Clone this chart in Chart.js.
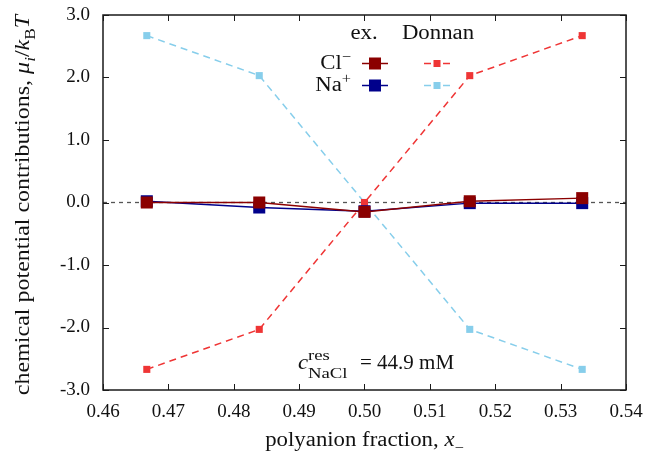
<!DOCTYPE html>
<html><head><meta charset="utf-8">
<script src="https://cdn.jsdelivr.net/npm/chart.js@4/dist/chart.umd.min.js"></script>
<style>html,body{margin:0;padding:0;background:#fff}canvas{display:block}</style>
</head><body>
<canvas id="c" width="646" height="457"></canvas>
<script>
// ---- data ----
const xFraction = [0.4667, 0.4839, 0.5000, 0.5161, 0.5333];
const exCl      = [0.00, 0.00, -0.15, 0.02, 0.07];
const exNa      = [0.02, -0.08, -0.14, -0.01, -0.01];
const donnanCl  = [-2.67, -2.03, 0.00, 2.03, 2.67];
const donnanNa  = [2.67, 2.03, 0.00, -2.03, -2.67];
const xTickValues = [0.46, 0.47, 0.48, 0.49, 0.50, 0.51, 0.52, 0.53, 0.54];
const yTickValues = [-3, -2, -1, 0, 1, 2, 3];
const zeroLine = [0, 0];
const zeroLineX = [0.46, 0.54];

const FONT = "'Liberation Serif','DejaVu Serif',serif";
const FS = 20;      // text size
const SX = 1.14;    // horizontal widening to mimic Computer Modern widths
const C_EXCL = '#8b0000', C_EXNA = '#00008b', C_DCL = '#ef3535', C_DNA = '#87ceeb';

const pts = (xs, ys) => xs.map((x, i) => ({x, y: ys[i]}));

function setF(ctx, r, size) {
  const s = (r.sub || r.sup) ? size * 0.72 : size;
  ctx.font = (r.it ? 'italic ' : '') + s + 'px ' + FONT;
}
function runWidth(ctx, runs, size, sx) {
  let w = 0;
  for (const r of runs) { setF(ctx, r, size); w += ctx.measureText(r.t).width; }
  return w * sx;
}
function drawRuns(ctx, runs, x, y, size, sx) {
  ctx.save(); ctx.translate(x, y); ctx.scale(sx, 1);
  let cx = 0;
  for (const r of runs) {
    setF(ctx, r, size);
    const dy = r.sub ? size * 0.3 : (r.sup ? -size * 0.4 : 0);
    ctx.fillText(r.t, cx, dy);
    cx += ctx.measureText(r.t).width;
  }
  ctx.restore();
}

const decor = {
  id: 'decor',
  afterDraw(chart) {
    const ctx = chart.ctx, a = chart.chartArea;
    const xs = chart.scales.x, ys = chart.scales.y;
    ctx.save();
    // frame
    ctx.strokeStyle = '#1a1a1a'; ctx.lineWidth = 1.5; ctx.setLineDash([]);
    ctx.strokeRect(a.left, a.top, a.right - a.left, a.bottom - a.top);
    // inward ticks on all sides
    ctx.lineWidth = 1;
    const TL = 6;
    ctx.beginPath();
    for (const v of xTickValues) {
      const p = Math.round(xs.getPixelForValue(v)) + 0.5;
      ctx.moveTo(p, a.bottom); ctx.lineTo(p, a.bottom - TL);
      ctx.moveTo(p, a.top); ctx.lineTo(p, a.top + TL);
    }
    for (const v of yTickValues) {
      const p = Math.round(ys.getPixelForValue(v)) + 0.5;
      ctx.moveTo(a.left, p); ctx.lineTo(a.left + TL, p);
      ctx.moveTo(a.right, p); ctx.lineTo(a.right - TL, p);
    }
    ctx.stroke();

    ctx.fillStyle = '#111'; ctx.textAlign = 'left'; ctx.textBaseline = 'alphabetic';
    // x title
    const xt = [{t: 'polyanion fraction, '}, {t: 'x', it: true}, {t: '\u2212', sub: true}];
    const xw = runWidth(ctx, xt, FS, SX);
    drawRuns(ctx, xt, (a.left + a.right) / 2 - xw / 2, 446, FS, SX);
    // y title
    const yt = [{t: 'chemical potential contributions, '}, {t: '\u03bc', it: true}, {t: 'i', it: true, sub: true},
                {t: '/'}, {t: 'k', it: true}, {t: 'B', sub: true}, {t: 'T', it: true}];
    const YSX = 1.2;
    const yw = runWidth(ctx, yt, FS, YSX);
    ctx.save(); ctx.translate(29, 205); ctx.rotate(-Math.PI / 2);
    drawRuns(ctx, yt, -yw / 2, 0, FS, YSX);
    ctx.restore();

    // annotation
    drawRuns(ctx, [{t: 'c', it: true}], 298, 369, FS, SX);
    drawRuns(ctx, [{t: 'res'}], 308, 360, 15, 1.25);
    drawRuns(ctx, [{t: 'NaCl'}], 308, 378, 15, 1.25);
    drawRuns(ctx, [{t: '= 44.9 mM'}], 360, 369, 21, 1.0);

    // legend
    const ex = [{t: 'ex.'}], dn = [{t: 'Donnan'}];
    drawRuns(ctx, ex, 364 - runWidth(ctx, ex, FS, SX) / 2, 39, FS, SX);
    drawRuns(ctx, dn, 438 - runWidth(ctx, dn, FS, SX) / 2, 39, FS, SX);
    const clRuns = [{t: 'Cl'}, {t: '\u2212', sup: true}];
    const naRuns = [{t: 'Na'}, {t: '+', sup: true}];
    drawRuns(ctx, clRuns, 351 - runWidth(ctx, clRuns, FS, SX), 69, FS, SX);
    drawRuns(ctx, naRuns, 351 - runWidth(ctx, naRuns, FS, SX), 91, FS, SX);
    const sample = (y, cEx, cD) => {
      ctx.lineWidth = 1.5; ctx.strokeStyle = cEx;
      ctx.beginPath(); ctx.moveTo(362, y); ctx.lineTo(388, y); ctx.stroke();
      ctx.fillStyle = cEx; ctx.fillRect(369, y - 6, 12, 12);
      ctx.strokeStyle = cD;
      ctx.beginPath(); ctx.moveTo(424, y); ctx.lineTo(431, y); ctx.moveTo(443, y); ctx.lineTo(450, y); ctx.stroke();
      ctx.fillStyle = cD; ctx.fillRect(433.5, y - 3.5, 7, 7);
    };
    sample(63.5, C_EXCL, C_DCL);
    sample(85.5, C_EXNA, C_DNA);
    ctx.restore();
  }
};

const tickFont = {family: FONT, size: 19};
new Chart(document.getElementById('c'), {
  type: 'line',
  data: {
    datasets: [
      {data: pts(xFraction, exCl), borderColor: C_EXCL, backgroundColor: C_EXCL, borderWidth: 1.5,
       pointStyle: 'rect', pointRadius: 8.5, pointBorderWidth: 0},
      {data: pts(xFraction, exNa), borderColor: C_EXNA, backgroundColor: C_EXNA, borderWidth: 1.5,
       pointStyle: 'rect', pointRadius: 8.5, pointBorderWidth: 0},
      {data: pts(xFraction, donnanCl), borderColor: C_DCL, backgroundColor: C_DCL, borderWidth: 1.5,
       borderDash: [7, 5], pointStyle: 'rect', pointRadius: 5, pointBorderWidth: 0},
      {data: pts(xFraction, donnanNa), borderColor: C_DNA, backgroundColor: C_DNA, borderWidth: 1.5,
       borderDash: [7, 5], pointStyle: 'rect', pointRadius: 5, pointBorderWidth: 0},
      {data: pts(zeroLineX, zeroLine), borderColor: '#555', borderWidth: 1.3, borderDash: [4, 4], pointRadius: 0}
    ]
  },
  options: {
    responsive: false, devicePixelRatio: 1, animation: false,
    layout: {padding: {top: 15, right: 20, bottom: 0, left: 0}},
    plugins: {legend: {display: false}, tooltip: {enabled: false}},
    elements: {line: {tension: 0, fill: false}},
    scales: {
      x: {type: 'linear', min: 0.46, max: 0.54,
          afterBuildTicks: s => { s.ticks = xTickValues.map(v => ({value: v})); },
          afterFit: s => { s.height = 67; s.paddingLeft = 0; s.paddingRight = 0; },
          grid: {display: false, drawTicks: false}, border: {display: false},
          ticks: {font: tickFont, color: '#111', padding: 11, maxRotation: 0, autoSkip: false,
                  callback: v => Number(v).toFixed(2)}},
      y: {type: 'linear', min: -3, max: 3,
          afterBuildTicks: s => { s.ticks = yTickValues.map(v => ({value: v})); },
          afterFit: s => { s.width = 103; s.paddingTop = 0; s.paddingBottom = 0; },
          grid: {display: false, drawTicks: false}, border: {display: false},
          ticks: {font: tickFont, color: '#111', padding: 13, autoSkip: false,
                  callback: v => Number(v).toFixed(1)}}
    }
  },
  plugins: [decor]
});
</script>
</body></html>
